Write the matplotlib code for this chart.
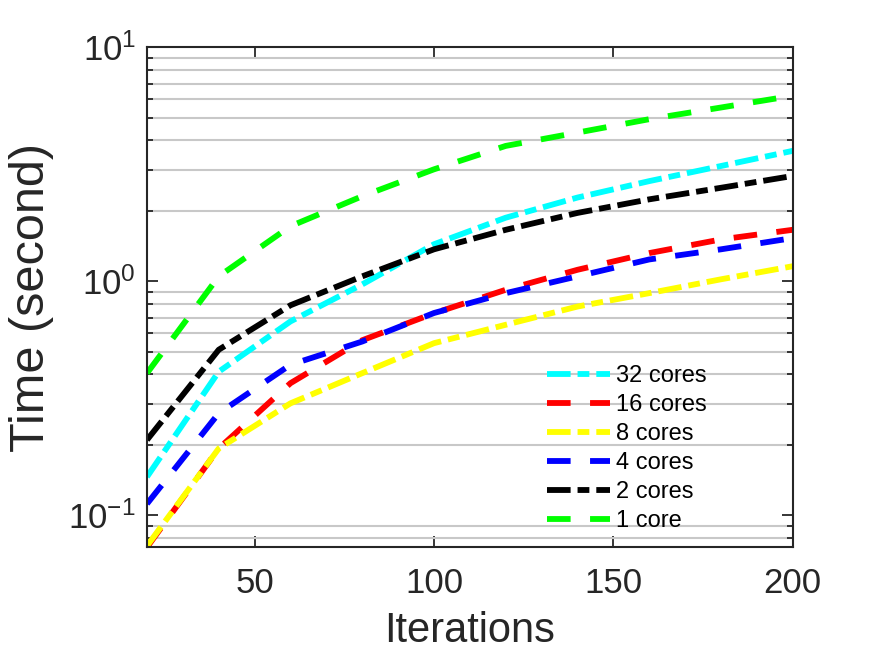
import matplotlib
matplotlib.use("Agg")
import matplotlib.pyplot as plt
from matplotlib.ticker import LogLocator, NullFormatter, FixedLocator

plt.rcParams["font.family"] = ["Liberation Sans", "DejaVu Sans"]
plt.rcParams["mathtext.fontset"] = "custom"
plt.rcParams["mathtext.rm"] = "Liberation Sans"
plt.rcParams["lines.scale_dashes"] = False

iterations = [20, 40, 60, 80, 100, 120, 140, 160, 180, 200]

t_32 = [0.146, 0.411, 0.674, 0.97, 1.44, 1.87, 2.28, 2.68, 3.11, 3.61]
t_16 = [0.073, 0.193, 0.367, 0.56, 0.73, 0.92, 1.12, 1.32, 1.51, 1.66]
t_8 = [0.074, 0.193, 0.301, 0.405, 0.544, 0.652, 0.78, 0.89, 1.02, 1.16]
t_4 = [0.112, 0.273, 0.44, 0.553, 0.732, 0.89, 1.05, 1.24, 1.37, 1.53]
t_2 = [0.21, 0.51, 0.79, 1.05, 1.37, 1.66, 1.96, 2.24, 2.51, 2.82]
t_1 = [0.405, 1.05, 1.72, 2.31, 3.01, 3.79, 4.32, 4.93, 5.53, 6.21]

labels = ["32 cores", "16 cores", "8 cores", "4 cores", "2 cores", "1 core"]
series = [t_32, t_16, t_8, t_4, t_2, t_1]
colors = ["#00ffff", "#ff0000", "#ffff00", "#0000ff", "#000000", "#00ff00"]
dash = (17, 14)
dashdot = (17, 5, 8.5, 5)
patterns = [dashdot, dash, dashdot, dash, dashdot, dash]

fig = plt.figure(figsize=(8.75, 6.57), dpi=100)
ax = fig.add_axes([0.168, 0.167, 0.738, 0.761])

for y, c, d, lab in zip(series, colors, patterns, labels):
    ax.plot(iterations, y, color=c, lw=4.2, dashes=d, label=lab,
            solid_capstyle="butt", dash_capstyle="butt")

ax.set_yscale("log")
ax.set_xlim(20, 200)
ax.set_ylim(0.073, 10)
ax.xaxis.set_major_locator(FixedLocator([50, 100, 150, 200]))
ax.yaxis.set_major_locator(LogLocator(base=10))
ax.yaxis.set_minor_locator(LogLocator(base=10, subs=range(2, 10)))
ax.yaxis.set_minor_formatter(NullFormatter())

ax.grid(False)
ax.yaxis.grid(True, which="minor", color="#c8c8c8", lw=1.5)
ax.set_axisbelow(True)

axis_col = "#262626"
for s in ax.spines.values():
    s.set_color(axis_col)
    s.set_linewidth(1.5)
ax.tick_params(which="both", direction="in", top=True, right=True,
               colors=axis_col, width=1.3)
ax.tick_params(which="major", length=8, labelsize=25)
ax.tick_params(axis="x", which="major", pad=14)
ax.tick_params(axis="y", which="major", pad=8)
ax.tick_params(which="minor", length=4)

ax.set_xlabel("Iterations", fontsize=30, color=axis_col, labelpad=8)
ax.set_ylabel("Time (second)", fontsize=35, color=axis_col, labelpad=10)

leg = ax.legend(loc="lower left", frameon=False, fontsize=17,
                handlelength=2.7, handletextpad=0.25, labelspacing=0.3,
                borderpad=0, borderaxespad=0, bbox_to_anchor=(0.619, 0.03))

fig.savefig("out.png", dpi=100)
